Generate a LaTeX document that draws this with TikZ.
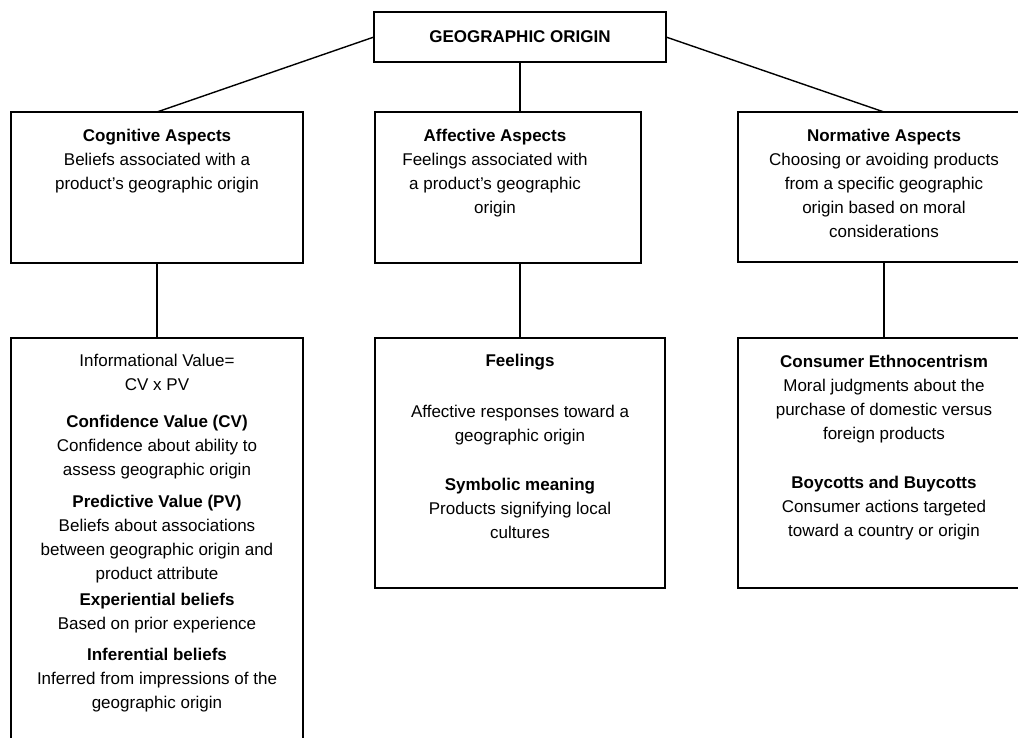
\documentclass[tikz,border=0pt]{standalone}
\usepackage{fontspec}
\setmainfont{Liberation Sans}
\begin{document}
\begin{tikzpicture}[x=1pt,y=-1pt,
  box/.style={draw, line width=1.5pt, rectangle, anchor=north west, inner sep=0pt, outer sep=0pt},
  link/.style={line width=1.4pt},
  txt/.style={align=center, anchor=north, inner sep=0pt, font=\fontsize{17}{24}\selectfont}]
\useasboundingbox (0,0) rectangle (1018,738);
\clip (0,0) rectangle (1018,738);

% frames
\node[box, minimum width=292pt, minimum height=50pt]  (top)  at (374,12)  {};
\node[box, minimum width=292pt, minimum height=151pt] (cog)  at (11,112)  {};
\node[box, minimum width=266pt, minimum height=151pt] (aff)  at (375,112) {};
\node[box, minimum width=292pt, minimum height=150pt] (nor)  at (738,112) {};
\node[box, minimum width=292pt, minimum height=420pt] (cogL) at (11,338)  {};
\node[box, minimum width=290pt, minimum height=250pt] (fee)  at (375,338) {};
\node[box, minimum width=292pt, minimum height=250pt] (norL) at (738,338) {};

% connectors
\draw[link] (top.west) -- (cog.north);
\draw[link] (top.east) -- (nor.north);
\draw[link] (top.south) -- (top.south |- aff.north);
\draw[link] (fee.north |- aff.south) -- (fee.north);
\draw[link] (cog.south) -- (cogL.north);
\draw[link] (nor.south) -- (norL.north);

% texts
\node[font=\fontsize{17}{24}\selectfont\bfseries] (tTop) at (top.center) {GEOGRAPHIC ORIGIN};

\node[txt] (tCog) at (157,129) {\textbf{Cognitive Aspects}\\Beliefs associated with a\\product’s geographic origin};
\node[txt] (tAff) at (495,129) {\textbf{Affective Aspects}\\Feelings associated with\\a product’s geographic\\origin};
\node[txt] (tNor) at (884,129) {\textbf{Normative Aspects}\\Choosing or avoiding products\\from a specific geographic\\origin based on moral\\considerations};

\node[txt] (tIV)  at (157,354) {Informational Value=\\CV x PV};
\node[txt] (tCV)  at (157,415) {\textbf{Confidence Value (CV)}\\Confidence about ability to\\assess geographic origin};
\node[txt] (tPV)  at (157,495) {\textbf{Predictive Value (PV)}\\Beliefs about associations\\between geographic origin and\\product attribute};
\node[txt] (tExp) at (157,593) {\textbf{Experiential beliefs}\\Based on prior experience};
\node[txt] (tInf) at (157,648) {\textbf{Inferential beliefs}\\Inferred from impressions of the\\geographic origin};

\node[txt] (tFee) at (520,354) {\textbf{Feelings}};
\node[txt] (tAR)  at (520,405) {Affective responses toward a\\geographic origin};
\node[txt] (tSym) at (520,478) {\textbf{Symbolic meaning}\\Products signifying local\\cultures};

\node[txt] (tEth) at (884,355) {\textbf{Consumer Ethnocentrism}\\Moral judgments about the\\purchase of domestic versus\\foreign products};
\node[txt] (tBoy) at (884,476) {\textbf{Boycotts and Buycotts}\\Consumer actions targeted\\toward a country or origin};
\end{tikzpicture}
\end{document}
